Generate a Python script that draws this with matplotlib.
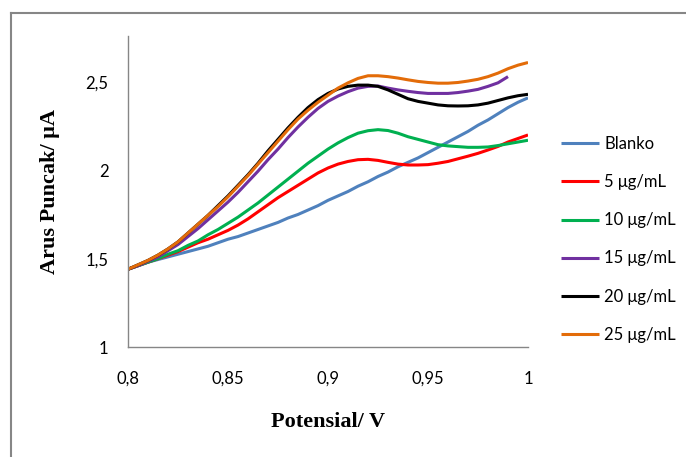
import numpy as np
import matplotlib
matplotlib.use("Agg")
import matplotlib.pyplot as plt
from matplotlib.lines import Line2D

# =====================================================
# DATA
# =====================================================
potensial = [0.800, 0.805, 0.810, 0.815, 0.820, 0.825, 0.830, 0.835, 0.840, 0.845,
             0.850, 0.855, 0.860, 0.865, 0.870, 0.875, 0.880, 0.885, 0.890, 0.895,
             0.900, 0.905, 0.910, 0.915, 0.920, 0.925, 0.930, 0.935, 0.940, 0.945,
             0.950, 0.955, 0.960, 0.965, 0.970, 0.975, 0.980, 0.985, 0.990, 0.995,
             1.000]

blanko = [1.44, 1.46, 1.48, 1.495, 1.51, 1.525, 1.54, 1.555, 1.57, 1.59,
          1.61, 1.625, 1.645, 1.665, 1.685, 1.705, 1.73, 1.75, 1.775, 1.80,
          1.83, 1.855, 1.88, 1.91, 1.935, 1.965, 1.99, 2.02, 2.045, 2.07,
          2.10, 2.13, 2.16, 2.19, 2.22, 2.255, 2.285, 2.32, 2.355, 2.385,
          2.41]
c5 = [1.44, 1.46, 1.48, 1.50, 1.52, 1.54, 1.565, 1.59, 1.61, 1.635,
      1.66, 1.69, 1.725, 1.765, 1.805, 1.845, 1.88, 1.915, 1.95, 1.985,
      2.013, 2.035, 2.05, 2.06, 2.062, 2.056, 2.045, 2.035, 2.03, 2.03,
      2.032, 2.04, 2.05, 2.065, 2.08, 2.096, 2.115, 2.135, 2.16, 2.18,
      2.20]
c10 = [1.44, 1.46, 1.48, 1.50, 1.525, 1.545, 1.575, 1.60, 1.635, 1.665,
       1.70, 1.735, 1.775, 1.815, 1.86, 1.905, 1.95, 1.995, 2.04, 2.08,
       2.12, 2.155, 2.185, 2.21, 2.224, 2.23, 2.225, 2.21, 2.19, 2.175,
       2.16, 2.145, 2.138, 2.134, 2.13, 2.13, 2.132, 2.14, 2.15, 2.16,
       2.17]
c15 = [1.44, 1.46, 1.485, 1.51, 1.545, 1.58, 1.625, 1.67, 1.72, 1.77,
       1.82, 1.875, 1.935, 1.995, 2.06, 2.12, 2.185, 2.245, 2.30, 2.35,
       2.39, 2.42, 2.445, 2.465, 2.475, 2.477, 2.465, 2.455, 2.447, 2.44,
       2.435, 2.435, 2.435, 2.44, 2.448, 2.458, 2.475, 2.495, 2.53]
c20 = [1.44, 1.465, 1.49, 1.52, 1.555, 1.595, 1.645, 1.695, 1.745, 1.80,
       1.855, 1.915, 1.975, 2.04, 2.11, 2.175, 2.24, 2.30, 2.355, 2.40,
       2.435, 2.46, 2.475, 2.482, 2.482, 2.475, 2.455, 2.43, 2.405, 2.39,
       2.38, 2.37, 2.365, 2.364, 2.365, 2.37, 2.38, 2.395, 2.41, 2.422,
       2.43]
c25 = [1.44, 1.465, 1.49, 1.52, 1.555, 1.595, 1.645, 1.695, 1.745, 1.795,
       1.85, 1.91, 1.97, 2.035, 2.10, 2.165, 2.23, 2.29, 2.34, 2.385,
       2.425, 2.465, 2.495, 2.52, 2.535, 2.535, 2.53, 2.522, 2.512, 2.503,
       2.497, 2.493, 2.493, 2.497, 2.505, 2.515, 2.53, 2.55, 2.575, 2.595,
       2.61]

labels = ["Blanko", "5 μg/mL", "10 μg/mL", "15 μg/mL", "20 μg/mL", "25 μg/mL"]
series = [blanko, c5, c10, c15, c20, c25]
colors = ["#4F81BD", "#FF0000", "#00B050", "#7030A0", "#000000", "#E36C09"]

xticks = [0.8, 0.85, 0.9, 0.95, 1.0]
xtick_labels = ["0,8", "0,85", "0,9", "0,95", "1"]
yticks = [1.0, 1.5, 2.0, 2.5]
ytick_labels = ["1", "1,5", "2", "2,5"]

# =====================================================
# PLOT
# =====================================================
plt.rcParams["font.family"] = ["Lato", "DejaVu Sans"]

fig = plt.figure(figsize=(6.86, 4.57), dpi=100)
ax = fig.add_axes([128 / 686, 1 - 347 / 457, 400 / 686, 311 / 457])

for y, lab, col in zip(series, labels, colors):
    ax.plot(potensial[:len(y)], y, color=col, lw=2.2, label=lab,
            solid_capstyle="butt", solid_joinstyle="round")

ax.set_xlim(0.8, 1.0)
ax.set_ylim(1.0, 2.76)
ax.set_xticks(xticks)
ax.set_xticklabels(xtick_labels)
ax.set_yticks(yticks)
ax.set_yticklabels(ytick_labels)
ax.tick_params(axis="both", length=0, labelsize=12, colors="#000000")
ax.tick_params(axis="x", pad=17)
ax.tick_params(axis="y", pad=14)

for side in ["top", "right"]:
    ax.spines[side].set_visible(False)
for side in ["left", "bottom"]:
    ax.spines[side].set_color("#868686")
    ax.spines[side].set_linewidth(1.0)

ax.set_xlabel("Potensial/ V", family="Liberation Serif", fontweight="bold",
              fontsize=16)
ax.xaxis.label.set_va("center")
ax.xaxis.set_label_coords(0.5, -0.241)
ax.set_ylabel("Arus Puncak/ μA", family="Liberation Serif", fontweight="bold",
              fontsize=16)
ax.yaxis.label.set_va("center")
ax.yaxis.set_label_coords(-0.195, 0.5)

ax.legend(loc="upper left", bbox_to_anchor=(561 / 686, 1 - 136 / 457),
          bbox_transform=fig.transFigure, frameon=False, fontsize=12,
          handlelength=2.3, handletextpad=0.3, labelspacing=1.33,
          borderpad=0, borderaxespad=0)

# borda do gráfico (cortada à direita e embaixo)
fig.add_artist(Line2D([11 / 686, 11 / 686], [0, 1 - 13 / 457],
                      transform=fig.transFigure, color="#868686", lw=1.5))
fig.add_artist(Line2D([11 / 686, 1], [1 - 13 / 457, 1 - 13 / 457],
                      transform=fig.transFigure, color="#868686", lw=1.5))

fig.savefig("out.png", dpi=100)
